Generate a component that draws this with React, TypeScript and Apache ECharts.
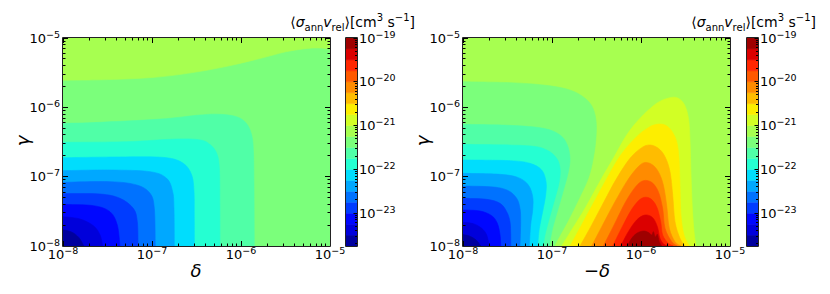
import React, { useEffect, useRef } from 'react';
import * as echarts from 'echarts';

// ---------- axes / colour scale ----------
const DECADE_TICKS = [-8, -7, -6, -5];
const MINOR_FACTORS = [2, 3, 4, 5, 6, 7, 8, 9];
const CBAR_LEVELS = [-23.75, -23.5, -23.25, -23, -22.75, -22.5, -22.25, -22, -21.75, -21.5, -21.25, -21, -20.75, -20.5, -20.25, -20, -19.75, -19.5, -19.25, -19];
const CBAR_TICKS = [-23, -22, -21, -20, -19];
const CBAR_MINOR_DECADES = [-24, -23, -22, -21, -20];
const BAND_COLORS = ['#00009e', '#0000db', '#0007ff', '#003cff', '#0072ff', '#00a8ff', '#00ddfd', '#25ffd2', '#50ffa7', '#7bff7b', '#a7ff50', '#d2ff25', '#fdee00', '#ffbc00', '#ff8b00', '#ff5900', '#ff2700', '#db0000', '#9e0000'];

// ---------- left panel (delta > 0): contour boundaries as [log10 delta, log10 gamma] ----------
const leftBackgroundBand = 9;
const leftTopBand = 10;
const leftTopCurve = [[-8, -5.61], [-7.5, -5.6], [-7, -5.57], [-6.6, -5.51], [-6.2, -5.42], [-5.8, -5.3], [-5.5, -5.2], [-5.25, -5.15], [-5.1, -5.145], [-5, -5.16]];
const leftCurve8 = [[-8, -6.23], [-7.66, -6.22], [-6.91, -6.17], [-6.46, -6.11], [-6.24, -6.1], [-6.05, -6.135], [-5.94, -6.23], [-5.88, -6.4], [-5.86, -6.64], [-5.854, -7.12], [-5.85, -8]];
const leftCurve7 = [[-8, -6.505], [-7.285, -6.495], [-6.723, -6.457], [-6.46, -6.47], [-6.35, -6.534], [-6.273, -6.663], [-6.243, -6.88], [-6.238, -7.4], [-6.236, -8]];
const leftCurve6 = [[-8, -6.726], [-7.3, -6.715], [-6.85, -6.725], [-6.648, -6.808], [-6.554, -6.976], [-6.528, -7.216], [-6.525, -7.6], [-6.524, -8]];
const leftCurve5 = [[-8, -6.913], [-7.472, -6.904], [-7.022, -6.928], [-6.835, -7.024], [-6.768, -7.216], [-6.753, -7.457], [-6.749, -8]];
const leftCurve4 = [[-8, -7.082], [-7.472, -7.072], [-7.172, -7.12], [-7.022, -7.24], [-6.974, -7.457], [-6.963, -8]];
const leftCurve3 = [[-8, -7.245], [-7.584, -7.25], [-7.36, -7.312], [-7.21, -7.457], [-7.165, -7.649], [-7.157, -8]];
const leftCurve2 = [[-8, -7.4], [-7.659, -7.418], [-7.472, -7.505], [-7.39, -7.697], [-7.36, -8]];
const leftCurve1 = [[-8, -7.577], [-7.809, -7.611], [-7.659, -7.707], [-7.584, -7.841], [-7.554, -8]];
const leftCurve0 = [[-8, -7.765], [-7.9, -7.8], [-7.82, -7.88], [-7.765, -8]];
const leftCornerBands = [8, 7, 6, 5, 4, 3, 2, 1, 0];
const leftCornerCurves = [leftCurve8, leftCurve7, leftCurve6, leftCurve5, leftCurve4, leftCurve3, leftCurve2, leftCurve1, leftCurve0];

// ---------- right panel (delta < 0) ----------
const rightBackgroundBand = 10;
const rightCurve9 = [[-8, -5.63], [-7.472, -5.644], [-7.097, -5.678], [-6.835, -5.736], [-6.667, -5.832], [-6.554, -5.976], [-6.506, -6.183], [-6.506, -6.447], [-6.536, -6.736], [-6.592, -7.024], [-6.704, -7.337], [-6.816, -7.625], [-6.929, -7.889], [-6.974, -8]];
const rightCurve8 = [[-8, -6.245], [-7.472, -6.26], [-7.097, -6.303], [-6.91, -6.399], [-6.828, -6.543], [-6.798, -6.736], [-6.816, -6.928], [-6.865, -7.168], [-6.929, -7.457], [-6.993, -7.745], [-7.03, -8]];
const rightCurve7 = [[-8, -6.534], [-7.285, -6.553], [-7.06, -6.615], [-6.948, -6.736], [-6.91, -6.88], [-6.918, -7.072], [-6.966, -7.312], [-7.03, -7.601], [-7.079, -7.841], [-7.097, -8]];
const rightCurve6 = [[-8, -6.76], [-7.472, -6.769], [-7.247, -6.808], [-7.116, -6.904], [-7.067, -7.072], [-7.071, -7.264], [-7.105, -7.505], [-7.142, -7.745], [-7.161, -8]];
const rightCurve5 = [[-8, -6.952], [-7.584, -6.966], [-7.378, -7.014], [-7.266, -7.12], [-7.217, -7.288], [-7.217, -7.481], [-7.24, -7.697], [-7.255, -8]];
const rightCurve4 = [[-8, -7.135], [-7.659, -7.149], [-7.491, -7.202], [-7.397, -7.312], [-7.36, -7.457], [-7.352, -7.649], [-7.36, -8]];
const rightCurve3 = [[-8, -7.3125], [-7.734, -7.327], [-7.584, -7.385], [-7.509, -7.505], [-7.472, -7.649], [-7.464, -7.841], [-7.464, -8]];
const rightCurve2 = [[-8, -7.481], [-7.809, -7.495], [-7.678, -7.5625], [-7.614, -7.673], [-7.584, -7.841], [-7.577, -8]];
const rightCurve1 = [[-8, -7.659], [-7.884, -7.678], [-7.79, -7.745], [-7.734, -7.841], [-7.705, -8]];
const rightCurve0 = [[-8, -7.835], [-7.93, -7.855], [-7.855, -7.91], [-7.8, -8]];
const rightCornerBands = [9, 8, 7, 6, 5, 4, 3, 2, 1, 0];
const rightCornerCurves = [rightCurve9, rightCurve8, rightCurve7, rightCurve6, rightCurve5, rightCurve4, rightCurve3, rightCurve2, rightCurve1, rightCurve0];

const humpCurve11 = [[-6.891, -8], [-6.768, -7.745], [-6.618, -7.433], [-6.442, -7.024], [-6.311, -6.736], [-6.161, -6.399], [-6.011, -6.159], [-5.824, -5.942], [-5.674, -5.861], [-5.581, -5.87], [-5.506, -5.976], [-5.464, -6.183], [-5.449, -6.495], [-5.438, -6.976], [-5.423, -7.457], [-5.404, -7.793], [-5.382, -8]];
const humpCurve12 = [[-6.798, -8], [-6.678, -7.721], [-6.536, -7.385], [-6.404, -7.072], [-6.228, -6.6875], [-6.049, -6.423], [-5.918, -6.293], [-5.824, -6.245], [-5.73, -6.255], [-5.655, -6.341], [-5.599, -6.495], [-5.573, -6.736], [-5.562, -7.12], [-5.551, -7.553], [-5.517, -7.841], [-5.457, -8]];
const humpCurve13 = [[-6.685, -8], [-6.554, -7.697], [-6.416, -7.361], [-6.273, -7.024], [-6.124, -6.736], [-5.993, -6.582], [-5.899, -6.543], [-5.805, -6.591], [-5.73, -6.712], [-5.674, -6.928], [-5.644, -7.264], [-5.618, -7.649], [-5.562, -7.889], [-5.506, -8]];
const humpCurve14 = [[-6.554, -8], [-6.431, -7.697], [-6.292, -7.361], [-6.161, -7.072], [-6.049, -6.88], [-5.966, -6.798], [-5.88, -6.822], [-5.805, -6.928], [-5.749, -7.12], [-5.712, -7.409], [-5.682, -7.745], [-5.618, -7.9375], [-5.551, -8]];
const humpCurve15 = [[-6.423, -8], [-6.303, -7.697], [-6.172, -7.361], [-6.06, -7.144], [-5.974, -7.058], [-5.88, -7.082], [-5.805, -7.216], [-5.757, -7.457], [-5.73, -7.745], [-5.655, -7.9375], [-5.592, -8]];
const humpCurve16 = [[-6.318, -8], [-6.21, -7.721], [-6.097, -7.457], [-5.993, -7.3125], [-5.899, -7.3125], [-5.824, -7.433], [-5.779, -7.649], [-5.757, -7.841], [-5.693, -7.962], [-5.637, -8]];
const humpCurve17 = [[-6.228, -8], [-6.142, -7.793], [-6.049, -7.625], [-5.955, -7.553], [-5.869, -7.591], [-5.816, -7.721], [-5.787, -7.889], [-5.742, -7.976], [-5.693, -8]];
const humpCurve18 = [[-6.154, -8], [-6.105, -7.889], [-6.049, -7.817], [-5.974, -7.784], [-5.918, -7.803], [-5.88, -7.841], [-5.861, -7.793], [-5.839, -7.87], [-5.816, -7.832], [-5.794, -7.9375], [-5.768, -8]];
const humpBands = [11, 12, 13, 14, 15, 16, 17, 18];
const humpCurves = [humpCurve11, humpCurve12, humpCurve13, humpCurve14, humpCurve15, humpCurve16, humpCurve17, humpCurve18];

// ---------- helpers ----------
const FONT = 'DejaVu Sans';
const XR = [-8, -5];
const YR = [-8, -5];

type Region = { kind: 'bg' | 'top' | 'corner' | 'hump'; band: number; pts: number[][] };

function smoothD(pts: number[][]): string {
  let d = `M${pts[0][0]},${pts[0][1]}`;
  for (let i = 0; i < pts.length - 1; i++) {
    const p0 = pts[i - 1] || pts[i];
    const p1 = pts[i];
    const p2 = pts[i + 1];
    const p3 = pts[i + 2] || p2;
    const c1x = p1[0] + (p2[0] - p0[0]) / 6;
    const c1y = p1[1] + (p2[1] - p0[1]) / 6;
    const c2x = p2[0] - (p3[0] - p1[0]) / 6;
    const c2y = p2[1] - (p3[1] - p1[1]) / 6;
    d += `C${c1x},${c1y},${c2x},${c2y},${p2[0]},${p2[1]}`;
  }
  return d;
}

function regionRenderer(regions: Region[]) {
  return (params: any, api: any) => {
    const r = regions[params.dataIndex];
    let d: string;
    if (r.kind === 'bg') {
      const a = api.coord([XR[0], YR[1]]);
      const b = api.coord([XR[1], YR[0]]);
      d = `M${a[0]},${a[1]}L${b[0]},${a[1]}L${b[0]},${b[1]}L${a[0]},${b[1]}Z`;
    } else {
      const px = r.pts.map((p) => api.coord(p));
      d = smoothD(px);
      if (r.kind === 'corner') {
        const c = api.coord([XR[0], YR[0]]);
        d += `L${c[0]},${c[1]}Z`;
      } else if (r.kind === 'top') {
        const a = api.coord([XR[1], YR[1]]);
        const b = api.coord([XR[0], YR[1]]);
        d += `L${a[0]},${a[1]}L${b[0]},${b[1]}Z`;
      } else {
        d += 'Z';
      }
    }
    const col = BAND_COLORS[r.band];
    return { type: 'path', shape: { pathData: d }, style: { fill: col, stroke: col, lineWidth: 0.6 } };
  };
}

const leftRegions: Region[] = [
  { kind: 'bg', band: leftBackgroundBand, pts: [] },
  { kind: 'top', band: leftTopBand, pts: leftTopCurve },
  ...leftCornerCurves.map((c, i) => ({ kind: 'corner' as const, band: leftCornerBands[i], pts: c })),
];
const rightRegions: Region[] = [
  { kind: 'bg', band: rightBackgroundBand, pts: [] },
  ...rightCornerCurves.map((c, i) => ({ kind: 'corner' as const, band: rightCornerBands[i], pts: c })),
  ...humpCurves.map((c, i) => ({ kind: 'hump' as const, band: humpBands[i], pts: c })),
];

// tick list: [value, major, dir] dir 0 = x, 1 = y
const mainTicks: number[][] = [];
[0, 1].forEach((dir) => {
  DECADE_TICKS.forEach((t) => mainTicks.push([t, 1, dir]));
  DECADE_TICKS.slice(0, 3).forEach((t) => MINOR_FACTORS.forEach((f) => mainTicks.push([t + Math.log10(f), 0, dir])));
});
const cbarTicks: number[][] = [];
CBAR_TICKS.forEach((t) => cbarTicks.push([t, 1, 1]));
CBAR_MINOR_DECADES.forEach((t) => MINOR_FACTORS.forEach((f) => {
  const v = t + Math.log10(f);
  if (v > CBAR_LEVELS[0] && v < CBAR_LEVELS[CBAR_LEVELS.length - 1]) cbarTicks.push([v, 0, 1]);
}));

function crisp(v: number) {
  return Math.round(v - 0.5) + 0.5;
}

function tickRenderer(list: number[][], xr: number[], yr: number[], bothSides: boolean, majorLen: number, minorLen: number) {
  return (params: any, api: any) => {
    const [v, major, dir] = list[params.dataIndex];
    const len = major ? majorLen : minorLen;
    const st = { stroke: '#000', lineWidth: 1 };
    const children: any[] = [];
    if (dir === 0) {
      const b = api.coord([v, yr[0]]);
      const t = api.coord([v, yr[1]]);
      const x = crisp(b[0]);
      children.push({ type: 'line', shape: { x1: x, y1: b[1], x2: x, y2: b[1] - len }, style: st });
      if (bothSides) children.push({ type: 'line', shape: { x1: x, y1: t[1], x2: x, y2: t[1] + len }, style: st });
    } else {
      const l = api.coord([xr[0], v]);
      const r = api.coord([xr[1], v]);
      const y = crisp(l[1]);
      children.push({ type: 'line', shape: { x1: r[0], y1: y, x2: r[0] - len, y2: y }, style: st });
      if (bothSides) children.push({ type: 'line', shape: { x1: l[0], y1: y, x2: l[0] + len, y2: y }, style: st });
    }
    return { type: 'group', children };
  };
}

function frameRenderer(xr: number[], yr: number[]) {
  return (params: any, api: any) => {
    const a = api.coord([xr[0], yr[1]]);
    const b = api.coord([xr[1], yr[0]]);
    return {
      type: 'rect',
      shape: { x: a[0] - 0.5, y: a[1] - 0.5, width: b[0] - a[0] + 1, height: b[1] - a[1] + 1 },
      style: { fill: 'none', stroke: '#222', lineWidth: 1 },
    };
  };
}

function cbarRenderer() {
  return (params: any, api: any) => {
    const i = params.dataIndex;
    const p0 = api.coord([0, CBAR_LEVELS[i]]);
    const p1 = api.coord([1, CBAR_LEVELS[i + 1]]);
    const col = BAND_COLORS[i];
    return {
      type: 'rect',
      shape: { x: p0[0], y: p1[1], width: p1[0] - p0[0], height: p0[1] - p1[1] },
      style: { fill: col, stroke: col, lineWidth: 0.5 },
    };
  };
}

const supRich = {
  b: { fontFamily: FONT, fontSize: 13, lineHeight: 18, color: '#000' },
  s: { fontFamily: FONT, fontSize: 9.5, lineHeight: 8, verticalAlign: 'top', color: '#000' },
};
const powLabel = (v: number) => `{b|10}{s|\u2212${Math.abs(Math.round(v))}}`;

const mainX = (g: number) => ({
  gridIndex: g, type: 'value', min: XR[0], max: XR[1], interval: 1,
  axisLine: { show: false }, axisTick: { show: false }, splitLine: { show: false },
  axisLabel: { formatter: powLabel, rich: supRich, margin: -1 },
});
const mainY = (g: number) => ({
  gridIndex: g, type: 'value', min: YR[0], max: YR[1], interval: 1,
  axisLine: { show: false }, axisTick: { show: false }, splitLine: { show: false },
  axisLabel: { formatter: powLabel, rich: supRich, margin: 3 },
});
const cbarX = (g: number) => ({ gridIndex: g, type: 'value', min: 0, max: 1, show: false });
const cbarY = (g: number) => ({
  gridIndex: g, type: 'value', min: CBAR_LEVELS[0], max: CBAR_LEVELS[CBAR_LEVELS.length - 1], position: 'right',
  axisLine: { show: false }, axisTick: { show: false }, splitLine: { show: false },
  axisLabel: { customValues: CBAR_TICKS, formatter: powLabel, rich: supRich, margin: 2 },
});

const dummy = (n: number, p: number[]) => Array.from({ length: n }, () => p.slice());

const titleRich = {
  m: { fontFamily: FONT, fontSize: 14, lineHeight: 20, color: '#000' },
  i: { fontFamily: FONT, fontSize: 14, lineHeight: 20, fontStyle: 'italic', color: '#000' },
  sub: { fontFamily: FONT, fontSize: 10, lineHeight: 9, verticalAlign: 'bottom', color: '#000' },
  sup: { fontFamily: FONT, fontSize: 10, lineHeight: 10, verticalAlign: 'top', color: '#000' },
};
const titleText = '{m|\u27e8}{i|\u03c3}{sub|ann}{i|v}{sub|rel}{m|\u27e9[cm}{sup|3}{m| s}{sup|\u22121}{m|]}';

function buildOption(): any {
  const seriesFor = (xi: number, regions: Region[]) => ({
    type: 'custom', xAxisIndex: xi, yAxisIndex: xi, clip: true, z: 1, silent: true,
    renderItem: regionRenderer(regions), data: dummy(regions.length, [-6.5, -6.5]),
  });
  const cbarSeries = (xi: number) => ({
    type: 'custom', xAxisIndex: xi, yAxisIndex: xi, z: 1, silent: true,
    renderItem: cbarRenderer(), data: dummy(CBAR_LEVELS.length - 1, [0.5, -21]),
  });
  const tickSeries = (xi: number) => ({
    type: 'custom', xAxisIndex: xi, yAxisIndex: xi, z: 4, silent: true,
    renderItem: tickRenderer(mainTicks, XR, YR, true, 5, 2.5), data: dummy(mainTicks.length, [-6.5, -6.5]),
  });
  const cbarTickSeries = (xi: number) => ({
    type: 'custom', xAxisIndex: xi, yAxisIndex: xi, z: 4, silent: true,
    renderItem: tickRenderer(cbarTicks, [0, 1], [CBAR_LEVELS[0], CBAR_LEVELS[CBAR_LEVELS.length - 1]], false, 3.5, 2),
    data: dummy(cbarTicks.length, [0.5, -21]),
  });
  const frameSeries = (xi: number, xr: number[], yr: number[]) => ({
    type: 'custom', xAxisIndex: xi, yAxisIndex: xi, z: 5, clip: false, silent: true,
    renderItem: frameRenderer(xr, yr), data: [[(xr[0] + xr[1]) / 2, (yr[0] + yr[1]) / 2]],
  });
  const cbYR = [CBAR_LEVELS[0], CBAR_LEVELS[CBAR_LEVELS.length - 1]];

  const mkTitle = (x: number) => ({
    type: 'text', x, y: 22, z: 10,
    style: { text: titleText, rich: titleRich, align: 'right', verticalAlign: 'middle', fontFamily: FONT, fontSize: 14 },
  });
  const mkGamma = (x: number) => ({
    type: 'text', x, y: 141, rotation: Math.PI / 2, z: 10,
    style: { text: '\u03b3', fontFamily: FONT, fontSize: 18, fontStyle: 'italic', fill: '#000', align: 'center', verticalAlign: 'middle' },
  });

  return {
    animation: false,
    backgroundColor: '#fff',
    textStyle: { fontFamily: FONT },
    grid: [
      { left: 63, top: 38, width: 267, height: 208 },
      { left: 346, top: 38, width: 11, height: 208 },
      { left: 463, top: 38, width: 267, height: 208 },
      { left: 747, top: 38, width: 11, height: 208 },
    ],
    xAxis: [mainX(0), cbarX(1), mainX(2), cbarX(3)],
    yAxis: [mainY(0), cbarY(1), mainY(2), cbarY(3)],
    series: [
      seriesFor(0, leftRegions),
      seriesFor(2, rightRegions),
      cbarSeries(1),
      cbarSeries(3),
      tickSeries(0),
      tickSeries(2),
      cbarTickSeries(1),
      cbarTickSeries(3),
      frameSeries(0, XR, YR),
      frameSeries(2, XR, YR),
      frameSeries(1, [0, 1], cbYR),
      frameSeries(3, [0, 1], cbYR),
    ],
    graphic: [
      mkTitle(415),
      mkTitle(816),
      mkGamma(22),
      mkGamma(422),
      {
        type: 'text', x: 196, y: 270, z: 10,
        style: { text: '\u03b4', fontFamily: FONT, fontSize: 18, fontStyle: 'italic', fill: '#000', align: 'center', verticalAlign: 'middle' },
      },
      {
        type: 'text', x: 597, y: 270, z: 10,
        style: {
          text: '{n|\u2212}{i|\u03b4}', align: 'center', verticalAlign: 'middle',
          rich: {
            n: { fontFamily: FONT, fontSize: 18, color: '#000' },
            i: { fontFamily: FONT, fontSize: 18, fontStyle: 'italic', color: '#000' },
          },
        },
      },
    ],
  };
}

export default function App() {
  const ref = useRef<HTMLDivElement>(null);
  useEffect(() => {
    if (!ref.current) return;
    const chart = echarts.init(ref.current, null, { renderer: 'svg' });
    chart.setOption(buildOption());
    return () => chart.dispose();
  }, []);
  return (
    <div
      ref={ref}
      style={{ position: 'absolute', left: 0, top: 0, width: 830, height: 294, background: '#fff' }}
    />
  );
}
